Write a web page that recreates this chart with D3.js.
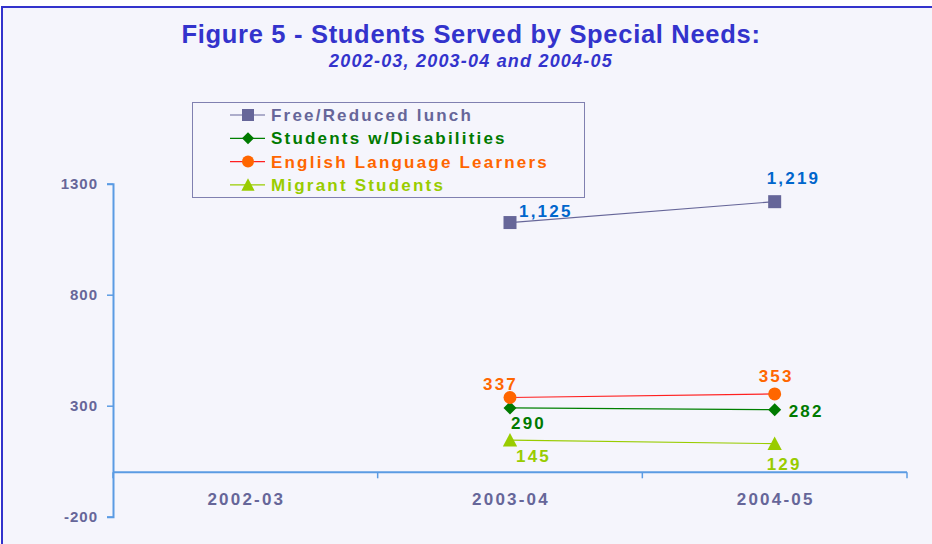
<!DOCTYPE html>
<html>
<head>
<meta charset="utf-8">
<script src="https://cdn.jsdelivr.net/npm/d3@7"></script>
<style>
  body { margin: 0; background: #ffffff; }
  text { font-family: "Liberation Sans", Arial, sans-serif; font-weight: bold; }
</style>
</head>
<body>
<div id="chart"></div>
<script>
// data
var years = ["2002-03", "2003-04", "2004-05"];
var yTicks = [-200, 300, 800, 1300];
var seriesNames = ["Free/Reduced lunch", "Students w/Disabilities", "English Language Learners", "Migrant Students"];
var freeLunch = [null, 1125, 1219];
var disabilities = [null, 290, 282];
var ell = [null, 337, 353];
var migrant = [null, 145, 129];

// styles for each series (same order as seriesNames)
var styles = [
    {line: "#666699", marker: "#666699", label: "#0066CC", text: "#666699", shape: "square"},
    {line: "#008000", marker: "#007A00", label: "#007A00", text: "#007A00", shape: "diamond"},
    {line: "#FF2020", marker: "#FF6600", label: "#FF6600", text: "#FF6600", shape: "circle"},
    {line: "#99CC00", marker: "#99CC00", label: "#99CC00", text: "#99CC00", shape: "triangle"}
];
// label offsets from the point [dx, dy] per series, per year
var labelOffsets = [
    [null, [9, -6], [-8, -18]],
    [null, [1, 21], [14, 7]],
    [null, [-27, -7], [-16, -12]],
    [null, [6, 22], [-8, 26]]
];

var allValues = [freeLunch, disabilities, ell, migrant];

var W = 932, H = 544;
var svg = d3.select("#chart").append("svg")
    .attr("width", W)
    .attr("height", H);

// frame
svg.append("rect")
    .attr("x", 2).attr("y", 7)
    .attr("width", W + 20).attr("height", H + 20)
    .attr("fill", "#F5F5FC")
    .attr("stroke", "#3333CC")
    .attr("stroke-width", 2);

// titles
svg.append("text")
    .attr("x", 471).attr("y", 43)
    .attr("text-anchor", "middle")
    .attr("fill", "#3333CC")
    .style("font-size", "25.5px")
    .style("letter-spacing", "0.7px")
    .text("Figure 5 - Students Served by Special Needs:");

svg.append("text")
    .attr("x", 471).attr("y", 67)
    .attr("text-anchor", "middle")
    .attr("fill", "#3333CC")
    .style("font-size", "18px")
    .style("font-style", "italic")
    .style("letter-spacing", "1.2px")
    .text("2002-03, 2003-04 and 2004-05");

var x = d3.scaleBand()
    .domain(years)
    .range([113, 907]);

var y = d3.scaleLinear()
    .domain([-200, 1300])
    .range([516.7, 183.7]);

var axisColor = "#5B9BE3";

// y axis
var gy = svg.append("g")
    .attr("transform", "translate(113,0)")
    .call(d3.axisLeft(y).tickValues(yTicks).tickSize(6).tickPadding(9)
        .tickFormat(function (d) { return String(d); }));
gy.select(".domain").attr("stroke", axisColor).attr("stroke-width", 2);
gy.selectAll(".tick line").attr("stroke", axisColor).attr("stroke-width", 1.5);
gy.selectAll(".tick text")
    .attr("fill", "#666699")
    .style("font-size", "15px")
    .style("letter-spacing", "1px")
    .style("font-family", "'Liberation Sans', Arial, sans-serif")
    .style("font-weight", "bold");

// x axis at zero
var gx = svg.append("g")
    .attr("transform", "translate(0," + y(0) + ")");
gx.append("line")
    .attr("x1", 113).attr("x2", 907)
    .attr("stroke", axisColor).attr("stroke-width", 2);
gx.selectAll(".edge")
    .data(years.concat(["end"]))
    .enter().append("line")
    .attr("class", "edge")
    .attr("x1", function (d, i) { return i < years.length ? x(d) : x.range()[1]; })
    .attr("x2", function (d, i) { return i < years.length ? x(d) : x.range()[1]; })
    .attr("y1", 0).attr("y2", 6)
    .attr("stroke", axisColor).attr("stroke-width", 1.5);
gx.selectAll(".cat")
    .data(years)
    .enter().append("text")
    .attr("class", "cat")
    .attr("x", function (d) { return x(d) + x.bandwidth() / 2 + 1; })
    .attr("y", 33)
    .attr("text-anchor", "middle")
    .attr("fill", "#666699")
    .style("font-size", "17px")
    .style("letter-spacing", "2.2px")
    .text(function (d) { return d; });

// marker shapes
function marker(sel, shape, color, s) {
    if (shape === "circle") {
        sel.append("circle").attr("r", s * 0.5).attr("fill", color);
    } else if (shape === "square") {
        sel.append("rect").attr("x", -s / 2).attr("y", -s / 2)
            .attr("width", s).attr("height", s).attr("fill", color);
    } else if (shape === "diamond") {
        var h = s * 0.5;
        sel.append("path").attr("d", "M0," + (-h) + "L" + h + ",0L0," + h + "L" + (-h) + ",0Z")
            .attr("fill", color);
    } else {
        var t = s * 0.55;
        sel.append("path").attr("d", "M0," + (-t) + "L" + t + "," + (t * 0.9) + "L" + (-t) + "," + (t * 0.9) + "Z")
            .attr("fill", color);
    }
}

var cx = function (i) { return x(years[i]) + x.bandwidth() / 2; };

// lines, markers and value labels
allValues.forEach(function (vals, si) {
    var st = styles[si];
    var pts = vals.map(function (v, i) { return {v: v, i: i}; })
        .filter(function (d) { return d.v !== null; });

    svg.append("path")
        .datum(pts)
        .attr("fill", "none")
        .attr("stroke", st.line)
        .attr("stroke-width", 1.2)
        .attr("d", d3.line()
            .x(function (d) { return cx(d.i); })
            .y(function (d) { return y(d.v); }));

    pts.forEach(function (d) {
        var g = svg.append("g")
            .attr("transform", "translate(" + cx(d.i) + "," + y(d.v) + ")");
        marker(g, st.shape, st.marker, 13);
        var off = labelOffsets[si][d.i];
        svg.append("text")
            .attr("x", cx(d.i) + off[0])
            .attr("y", y(d.v) + off[1])
            .attr("fill", st.label)
            .style("font-size", "17px")
            .style("letter-spacing", "2.2px")
            .text(d3.format(",")(d.v));
    });
});

// legend
var legend = svg.append("g");
legend.append("rect")
    .attr("x", 192.5).attr("y", 102.5)
    .attr("width", 392).attr("height", 95)
    .attr("fill", "#F5F5FC")
    .attr("stroke", "#8080B0")
    .attr("stroke-width", 1);

var rows = legend.selectAll(".row")
    .data(seriesNames)
    .enter().append("g")
    .attr("class", "row")
    .attr("transform", function (d, i) { return "translate(0," + (115 + i * 23.3) + ")"; });

rows.append("line")
    .attr("x1", 230).attr("x2", 265)
    .attr("stroke", function (d, i) { return styles[i].line; })
    .attr("stroke-width", 1.2);
rows.each(function (d, i) {
    var g = d3.select(this).append("g").attr("transform", "translate(248,0)");
    marker(g, styles[i].shape, styles[i].marker, 12);
});
rows.append("text")
    .attr("x", 271)
    .attr("y", 6)
    .attr("fill", function (d, i) { return styles[i].text; })
    .style("font-size", "17px")
    .style("letter-spacing", "2.2px")
    .text(function (d) { return d; });
</script>
</body>
</html>
